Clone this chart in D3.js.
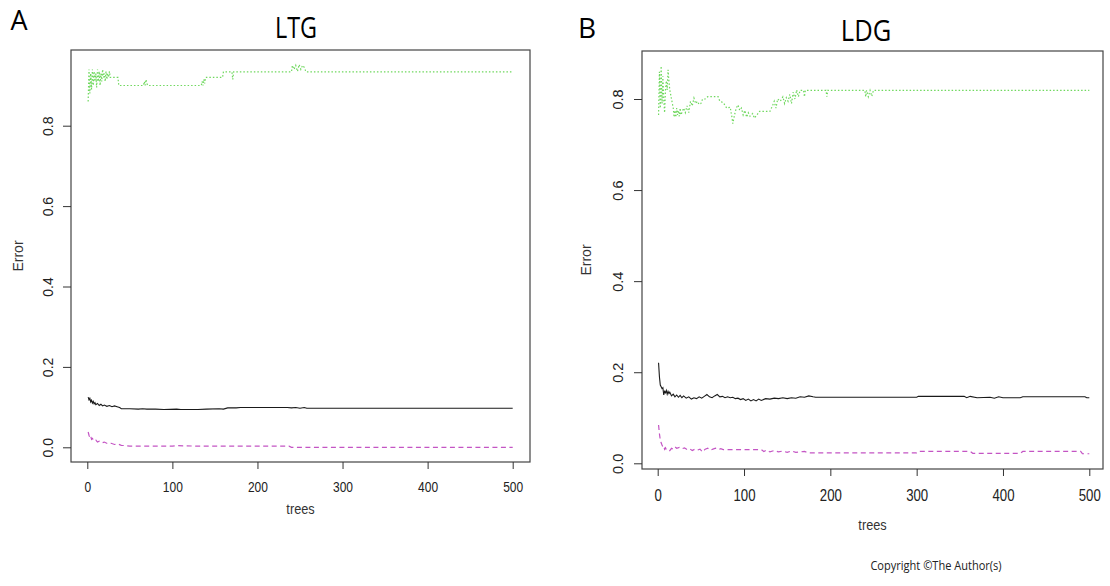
<!DOCTYPE html>
<html><head><meta charset="utf-8">
<script src="https://cdn.jsdelivr.net/npm/d3@7"></script>
<style>body{margin:0;background:#fff}svg{display:block}</style>
</head><body><svg id="c" width="1110" height="586"></svg>
<script>
// ---------- data ----------
const xTicks = [0, 100, 200, 300, 400, 500];
const yTicks = [0, 0.2, 0.4, 0.6, 0.8];
const panelTitles = ["LTG", "LDG"];
const panelLetters = ["A", "B"];

// LTG: [trees, error]
const ltgOOB = [[1,0.125],[2,0.118],[3,0.122],[4,0.113],[5,0.117],[6,0.11],[7,0.114],[8,0.108],[9,0.111],[10,0.106],[12,0.109],[14,0.104],[16,0.107],[18,0.103],[20,0.105],[23,0.102],[26,0.104],[29,0.101],[32,0.103],[35,0.101],[38,0.099],[40,0.096],[50,0.096],[60,0.095],[65,0.096],[70,0.095],[80,0.095],[90,0.094],[105,0.095],[110,0.094],[130,0.094],[140,0.095],[155,0.096],[160,0.095],[165,0.098],[175,0.098],[180,0.099],[235,0.099],[240,0.098],[245,0.099],[250,0.097],[255,0.099],[258,0.097],[500,0.097]];
const ltgClass1 = [[1,0.038],[2,0.03],[3,0.024],[4,0.028],[5,0.02],[6,0.022],[8,0.016],[10,0.018],[12,0.013],[14,0.015],[17,0.011],[20,0.013],[24,0.009],[28,0.01],[32,0.007],[36,0.008],[40,0.005],[45,0.004],[50,0.003],[100,0.003],[105,0.004],[130,0.003],[237,0.003],[240,0.0],[500,0.0]];
const ltgClass2 = [[1,0.86],[2,0.94],[3,0.88],[4,0.93],[5,0.89],[6,0.94],[7,0.9],[8,0.935],[9,0.91],[10,0.93],[11,0.895],[12,0.94],[13,0.91],[14,0.935],[15,0.9],[16,0.93],[17,0.91],[18,0.94],[19,0.92],[20,0.93],[21,0.91],[22,0.935],[23,0.915],[24,0.93],[25,0.92],[26,0.935],[27,0.92],[36,0.92],[37,0.9],[66,0.9],[67,0.91],[68,0.9],[69,0.915],[70,0.905],[71,0.9],[134,0.9],[135,0.91],[136,0.9],[137,0.915],[138,0.905],[139,0.92],[159,0.92],[160,0.934],[170,0.934],[171,0.915],[172,0.934],[240,0.934],[241,0.95],[243,0.94],[245,0.95],[247,0.935],[249,0.952],[251,0.94],[253,0.95],[255,0.945],[257,0.934],[500,0.934]];

// LDG: [trees, error]
const ldgOOB = [[1,0.221],[2,0.19],[3,0.172],[4,0.168],[5,0.164],[6,0.166],[7,0.15],[8,0.158],[9,0.155],[10,0.16],[11,0.152],[12,0.158],[13,0.153],[14,0.156],[16,0.148],[18,0.152],[20,0.146],[22,0.15],[24,0.145],[26,0.149],[28,0.144],[30,0.148],[33,0.143],[36,0.146],[39,0.141],[42,0.144],[45,0.142],[48,0.146],[51,0.143],[54,0.147],[57,0.151],[60,0.146],[63,0.144],[66,0.148],[69,0.151],[72,0.146],[75,0.147],[78,0.144],[81,0.146],[84,0.144],[87,0.145],[90,0.142],[93,0.143],[96,0.14],[99,0.142],[102,0.138],[105,0.141],[108,0.137],[111,0.14],[114,0.137],[117,0.141],[120,0.138],[125,0.142],[130,0.141],[135,0.143],[140,0.142],[145,0.144],[150,0.142],[155,0.144],[160,0.143],[165,0.146],[170,0.145],[175,0.148],[180,0.146],[183,0.145],[300,0.145],[302,0.147],[355,0.147],[358,0.144],[362,0.147],[370,0.144],[385,0.145],[390,0.143],[395,0.146],[400,0.144],[420,0.144],[423,0.146],[495,0.146],[497,0.144],[500,0.144]];
const ldgClass1 = [[1,0.084],[2,0.065],[3,0.051],[4,0.045],[5,0.04],[6,0.036],[7,0.038],[8,0.031],[9,0.034],[10,0.03],[12,0.031],[14,0.028],[16,0.033],[18,0.031],[20,0.036],[22,0.033],[25,0.035],[28,0.032],[31,0.034],[34,0.03],[37,0.032],[40,0.028],[43,0.031],[46,0.029],[49,0.031],[52,0.025],[55,0.031],[58,0.033],[61,0.029],[64,0.031],[67,0.033],[70,0.03],[73,0.032],[76,0.03],[120,0.03],[123,0.026],[126,0.029],[130,0.025],[135,0.028],[140,0.025],[145,0.027],[150,0.024],[155,0.027],[160,0.024],[170,0.026],[175,0.023],[300,0.023],[302,0.026],[362,0.026],[365,0.022],[420,0.022],[423,0.026],[490,0.026],[492,0.021],[500,0.021]];
const ldgClass2 = [[1,0.765],[2,0.86],[3,0.78],[4,0.872],[5,0.79],[6,0.85],[7,0.8],[8,0.77],[9,0.82],[10,0.84],[11,0.82],[12,0.864],[13,0.84],[14,0.82],[15,0.81],[16,0.8],[17,0.79],[18,0.78],[19,0.76],[20,0.775],[21,0.76],[22,0.78],[23,0.765],[24,0.775],[25,0.762],[26,0.78],[27,0.765],[28,0.77],[30,0.78],[32,0.77],[34,0.785],[36,0.77],[38,0.795],[40,0.785],[42,0.802],[44,0.79],[46,0.795],[48,0.788],[50,0.79],[52,0.8],[55,0.8],[58,0.805],[70,0.805],[72,0.795],[76,0.792],[80,0.78],[84,0.782],[86,0.76],[87,0.746],[89,0.765],[91,0.78],[93,0.787],[95,0.775],[97,0.78],[99,0.765],[101,0.775],[103,0.76],[105,0.77],[107,0.762],[110,0.768],[112,0.758],[115,0.765],[118,0.773],[130,0.773],[133,0.785],[135,0.795],[137,0.78],[139,0.8],[142,0.795],[145,0.805],[147,0.79],[149,0.803],[151,0.795],[153,0.81],[155,0.79],[157,0.815],[159,0.8],[161,0.82],[163,0.805],[165,0.819],[169,0.819],[170,0.805],[171,0.819],[195,0.819],[196,0.805],[197,0.819],[240,0.819],[241,0.805],[242,0.819],[244,0.805],[246,0.819],[248,0.806],[250,0.819],[500,0.819]];

// ---------- layout ----------
const svg = d3.select("#c");
const FONT = "'Liberation Sans', Arial, sans-serif";
const TFONT = "'Open Sans', 'Noto Sans', sans-serif";

const panels = [
  {series:[ltgOOB, ltgClass1, ltgClass2], box:[71,50,530,462], xr:[87.3,512.7], yr:[447.3,125.7],
   xLabY:487, xFs:15, yLabX:47.5, yFs:14, errX:17.5, treesY:509, letter:[19,30,27], title:[296,38,30,0.78]},
  {series:[ldgOOB, ldgClass1, ldgClass2], box:[642,51,1103,469], xr:[657.7,1089.3], yr:[463.3,99],
   xLabY:495, xFs:16.5, yLabX:617.5, yFs:14.5, errX:586, treesY:525, letter:[587,38,28], title:[866,41,30,0.85]}
];
const styles = [
  {color:"#1a1a1a", dash:null, w:1.1},
  {color:"#c455c4", dash:"5,3.5", w:1.2},
  {color:"#6fd85e", dash:"1.5,2", w:1.2}
];

panels.forEach((p, i) => {
  const g = svg.append("g");
  const x = d3.scaleLinear().domain([0, 500]).range(p.xr);
  const y = d3.scaleLinear().domain([0, 0.8]).range(p.yr);
  const [bx0, by0, bx1, by1] = p.box;

  // series
  const line = d3.line().x(d => x(d[0])).y(d => y(d[1]));
  p.series.forEach((s, k) => {
    const st = styles[k];
    g.append("path").datum(s).attr("d", line)
      .attr("fill", "none").attr("stroke", st.color).attr("stroke-width", st.w)
      .attr("stroke-dasharray", st.dash);
  });

  // box
  g.append("rect").attr("x", bx0).attr("y", by0).attr("width", bx1 - bx0).attr("height", by1 - by0)
    .attr("fill", "none").attr("stroke", "#444").attr("stroke-width", 1.2);

  // x axis
  const xa = g.append("g").attr("transform", `translate(0,${by1})`)
    .call(d3.axisBottom(x).tickValues(xTicks).tickSize(7).tickSizeOuter(0));
  xa.select(".domain").remove();
  xa.selectAll("line").attr("stroke", "#333");
  xa.selectAll("text").attr("y", null).attr("dy", null)
    .attr("dominant-baseline", "central")
    .attr("transform", `translate(0,${p.xLabY - by1}) scale(0.8,1)`)
    .attr("font-family", FONT).attr("font-size", p.xFs).attr("fill", "#222");

  // y axis
  const ya = g.append("g").attr("transform", `translate(${bx0},0)`)
    .call(d3.axisLeft(y).tickValues(yTicks).tickFormat(d3.format(".1f")).tickSize(8).tickSizeOuter(0));
  ya.select(".domain").remove();
  ya.selectAll("line").attr("stroke", "#333");
  ya.selectAll("text").attr("x", null).attr("dy", null)
    .attr("text-anchor", "middle").attr("dominant-baseline", "central")
    .attr("transform", `translate(${p.yLabX - bx0},0) rotate(-90)`)
    .attr("font-family", FONT).attr("font-size", p.yFs).attr("fill", "#222");

  // axis titles
  g.append("text").attr("transform", `translate(${p.errX},${(by0 + by1) / 2}) rotate(-90)`)
    .attr("text-anchor", "middle").attr("dominant-baseline", "central")
    .attr("font-family", FONT).attr("font-size", 14).attr("fill", "#333").text("Error");
  g.append("text").attr("transform", `translate(${(bx0 + bx1) / 2},${p.treesY}) scale(0.85,1)`)
    .attr("text-anchor", "middle").attr("dominant-baseline", "central")
    .attr("font-family", FONT).attr("font-size", 15).attr("fill", "#333").text("trees");

  // panel letter and title
  g.append("text").attr("x", p.letter[0]).attr("y", p.letter[1]).attr("text-anchor", "middle")
    .attr("font-family", TFONT).attr("font-size", p.letter[2]).attr("fill", "#000").text(panelLetters[i]);
  g.append("text").attr("transform", `translate(${p.title[0]},${p.title[1]}) scale(${p.title[3]},1)`)
    .attr("text-anchor", "middle")
    .attr("font-family", TFONT).attr("font-size", p.title[2]).attr("fill", "#000").text(panelTitles[i]);
});

svg.append("text").attr("transform", "translate(936,570) scale(0.85,1)")
  .attr("text-anchor", "middle").attr("font-family", TFONT).attr("font-size", 13)
  .attr("fill", "#222").text("Copyright ©The Author(s)");
</script>
</body></html>
